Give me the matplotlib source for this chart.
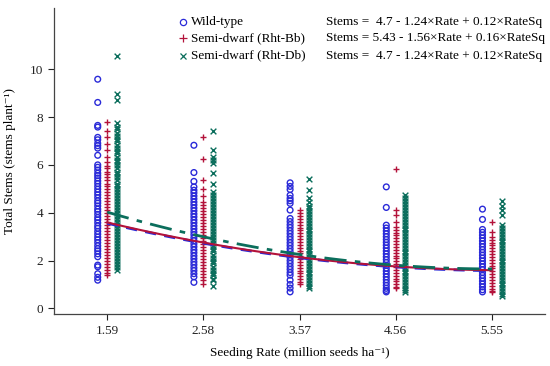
import numpy as np
import matplotlib
matplotlib.use('Agg')
import matplotlib.pyplot as plt

plt.rcParams['font.family'] = ['Liberation Serif', 'DejaVu Serif']

rates = [1.59, 2.58, 3.57, 4.56, 5.55]
rate_labels = ['1.59', '2.58', '3.57', '4.56', '5.55']

## stems per plant (one list per seeding rate)
wild_type = [
    [9.58, 8.61, 7.65, 7.58, 7.15, 7.05, 6.9, 6.8, 6.7, 6.4, 6.0, 5.9, 5.78, 5.65, 5.55, 5.45, 5.33, 5.22,
     5.1, 4.98, 4.86, 4.75, 4.63, 4.5, 4.4, 4.28, 4.15, 4.05, 3.93, 3.8, 3.7, 3.58, 3.45, 3.35, 3.22, 3.1,
     2.98, 2.87, 2.75, 2.62, 2.5, 2.4, 2.28, 2.16, 1.81, 1.74, 1.45, 1.3, 1.18],
    [6.82, 5.68, 5.31, 5.08, 4.94, 4.83, 4.7, 4.58, 4.45, 4.33, 4.2, 4.08, 3.95, 3.83, 3.7, 3.58, 3.45,
     3.33, 3.2, 3.08, 2.95, 2.83, 2.7, 2.58, 2.45, 2.33, 2.2, 2.08, 1.95, 1.83, 1.7, 1.58, 1.45, 1.32, 1.09],
    [5.25, 5.1, 4.97, 4.73, 4.6, 4.5, 4.39, 4.11, 3.76, 3.63, 3.5, 3.38, 3.25, 3.13, 3.0, 2.88, 2.75,
     2.63, 2.5, 2.38, 2.25, 2.13, 2.0, 1.88, 1.75, 1.63, 1.5, 1.39, 1.18, 1.0, 0.85, 0.69],
    [5.08, 4.22, 3.48, 3.36, 3.24, 3.12, 3.0, 2.88, 2.76, 2.64, 2.52, 2.4, 2.28, 2.16, 2.04, 1.92, 1.8,
     1.68, 1.56, 1.44, 1.32, 1.2, 1.08, 0.96, 0.84, 0.75, 0.69],
    [4.15, 3.72, 3.3, 3.18, 3.06, 2.94, 2.82, 2.7, 2.58, 2.46, 2.34, 2.22, 2.1, 1.98, 1.86, 1.74, 1.62,
     1.5, 1.38, 1.26, 1.14, 1.02, 0.9, 0.78, 0.69],
]
semi_dwarf_bb = [
    [7.8, 7.41, 7.15, 6.87, 6.61, 6.33, 6.1, 5.95, 5.85, 5.72, 5.6, 5.48, 5.35, 5.22, 5.1, 4.98, 4.85,
     4.72, 4.6, 4.48, 4.35, 4.22, 4.1, 3.98, 3.85, 3.72, 3.6, 3.48, 3.35, 3.22, 3.1, 2.98, 2.85, 2.72,
     2.6, 2.48, 2.35, 2.22, 2.1, 1.98, 1.85, 1.74, 1.6, 1.48, 1.39],
    [7.17, 6.25, 5.36, 5.01, 4.69, 4.45, 4.32, 4.2, 4.08, 3.95, 3.83, 3.7, 3.58, 3.45, 3.33, 3.2, 3.08,
     2.95, 2.83, 2.7, 2.58, 2.45, 2.33, 2.2, 2.08, 1.95, 1.83, 1.7, 1.58, 1.45, 1.32, 1.18, 1.04],
    [4.11, 3.98, 3.86, 3.74, 3.62, 3.5, 3.38, 3.26, 3.14, 3.02, 2.9, 2.78, 2.66, 2.54, 2.42, 2.3, 2.18,
     2.06, 1.94, 1.82, 1.7, 1.58, 1.46, 1.34, 1.22, 1.1, 1.02],
    [5.82, 4.11, 3.9, 3.62, 3.41, 3.29, 3.17, 3.05, 2.93, 2.81, 2.69, 2.57, 2.45, 2.33, 2.21, 2.09, 1.97,
     1.85, 1.73, 1.61, 1.49, 1.37, 1.25, 1.13, 1.01, 0.9, 0.84],
    [3.62, 3.2, 2.99, 2.87, 2.75, 2.63, 2.51, 2.39, 2.27, 2.15, 2.03, 1.91, 1.79, 1.67, 1.55, 1.43, 1.31,
     1.19, 1.07, 0.95, 0.83, 0.73, 0.69],
]
semi_dwarf_db = [
    [10.56, 8.96, 8.7, 7.73, 7.6, 7.48, 7.35, 7.22, 7.1, 6.98, 6.85, 6.72, 6.6, 6.48, 6.35, 6.22, 6.1,
     5.98, 5.85, 5.72, 5.6, 5.48, 5.35, 5.22, 5.1, 4.98, 4.85, 4.72, 4.6, 4.48, 4.35, 4.22, 4.1, 3.98,
     3.85, 3.72, 3.6, 3.48, 3.35, 3.22, 3.1, 2.98, 2.85, 2.72, 2.6, 2.48, 2.35, 2.22, 2.1, 1.98, 1.85,
     1.72, 1.6],
    [7.42, 6.62, 6.33, 6.2, 6.07, 5.68, 5.22, 4.87, 4.75, 4.62, 4.5, 4.38, 4.25, 4.12, 4.0, 3.88, 3.75,
     3.62, 3.5, 3.38, 3.25, 3.12, 3.0, 2.88, 2.75, 2.62, 2.5, 2.38, 2.25, 2.12, 2.0, 1.88, 1.75, 1.62,
     1.5, 1.38, 1.25, 1.18, 0.95],
    [5.43, 4.94, 4.6, 4.45, 4.3, 4.18, 4.06, 3.94, 3.82, 3.7, 3.58, 3.46, 3.34, 3.22, 3.1, 2.98, 2.86,
     2.74, 2.62, 2.5, 2.38, 2.26, 2.14, 2.02, 1.9, 1.78, 1.66, 1.54, 1.42, 1.3, 1.18, 1.06, 0.94, 0.84],
    [4.73, 4.6, 4.48, 4.35, 4.22, 4.1, 3.98, 3.86, 3.74, 3.62, 3.5, 3.38, 3.26, 3.14, 3.02, 2.9, 2.78,
     2.66, 2.54, 2.42, 2.3, 2.18, 2.06, 1.94, 1.82, 1.7, 1.58, 1.46, 1.34, 1.22, 1.1, 0.98, 0.86, 0.75,
     0.69],
    [4.5, 4.3, 4.12, 3.9, 3.48, 3.36, 3.24, 3.12, 3.0, 2.88, 2.76, 2.64, 2.52, 2.4, 2.28, 2.16, 2.04,
     1.92, 1.8, 1.68, 1.56, 1.44, 1.32, 1.2, 1.08, 0.96, 0.84, 0.72, 0.6, 0.51],
]

## fitted curves, read at each seeding rate
fit_wild = [3.55, 2.76, 2.09, 1.74, 1.58]
fit_bb = [3.58, 2.79, 2.11, 1.76, 1.6]
fit_db = [4.01, 3.04, 2.21, 1.82, 1.65]

labels = ['Wild-type', 'Semi-dwarf (Rht-Bb)', 'Semi-dwarf (Rht-Db)']
equations = ['Stems =  4.7 - 1.24×Rate + 0.12×RateSq',
             'Stems = 5.43 - 1.56×Rate + 0.16×RateSq',
             'Stems =  4.7 - 1.24×Rate + 0.12×RateSq']

blue = '#2a2ad8'
red = '#b3123a'
green = '#0b6e5c'

fig = plt.figure(figsize=(5.5, 3.66), dpi=100)
ax = fig.add_axes([0.098, 0.141, 0.893, 0.836])

offset = 0.098
for i, r in enumerate(rates):
    ax.scatter([r - offset] * len(wild_type[i]), wild_type[i], s=17, marker='o',
               facecolors='none', edgecolors=blue, linewidths=1.0, zorder=2)
    ax.scatter([r] * len(semi_dwarf_bb[i]), semi_dwarf_bb[i], s=22, marker='+',
               color=red, linewidths=1.0, zorder=2)
    ax.scatter([r + offset] * len(semi_dwarf_db[i]), semi_dwarf_db[i], s=17, marker='x',
               color=green, linewidths=1.0, zorder=2)

xs = np.linspace(rates[0], rates[-1], 100)
for fit, col, ls, lw, z in [(fit_wild, blue, (0, (4, 3)), 2.0, 3),
                            (fit_bb, red, '-', 1.5, 4),
                            (fit_db, green, (0, (8, 3, 2, 3)), 2.0, 5)]:
    c = np.polyfit(rates, fit, 2)
    ax.plot(xs, np.polyval(c, xs), color=col, linestyle=ls, linewidth=lw, zorder=z)

ax.set_xlim(1.041, 6.096)
ax.set_ylim(-0.25, 12.54)
ax.set_xticks(rates)
ax.set_xticklabels(rate_labels)
ax.set_yticks([0, 2, 4, 6, 8, 10])
ax.tick_params(labelsize=9.5, length=4, width=0.8, colors='#222222')
for s in ['top', 'right']:
    ax.spines[s].set_visible(False)
for s in ['left', 'bottom']:
    ax.spines[s].set_color('#444444')
    ax.spines[s].set_linewidth(0.9)

ax.set_xlabel('Seeding Rate (million seeds ha⁻¹)', fontsize=9.5, labelpad=7)
ax.set_ylabel('Total Stems (stems plant⁻¹)', fontsize=9.5, labelpad=10)

# legend by hand, with the fitted equations beside it
rows_y = [21.7, 38.3, 55.7]
mk = [dict(marker='o', mfc='none', mec=blue, ms=4.5, mew=0.9),
      dict(marker='+', color=red, ms=6, mew=0.9),
      dict(marker='x', color=green, ms=5, mew=0.9)]
for i in range(3):
    yf = 1 - rows_y[i] / 366
    ax.plot([182.7 / 550], [yf], transform=fig.transFigure, clip_on=False, linestyle='none', **mk[i])
    fig.text(190.7 / 550, yf, labels[i], fontsize=9.5, va='center', ha='left')
    fig.text(325.7 / 550, yf, equations[i], fontsize=9.5, va='center', ha='left')

fig.savefig('out.png', dpi=100)
